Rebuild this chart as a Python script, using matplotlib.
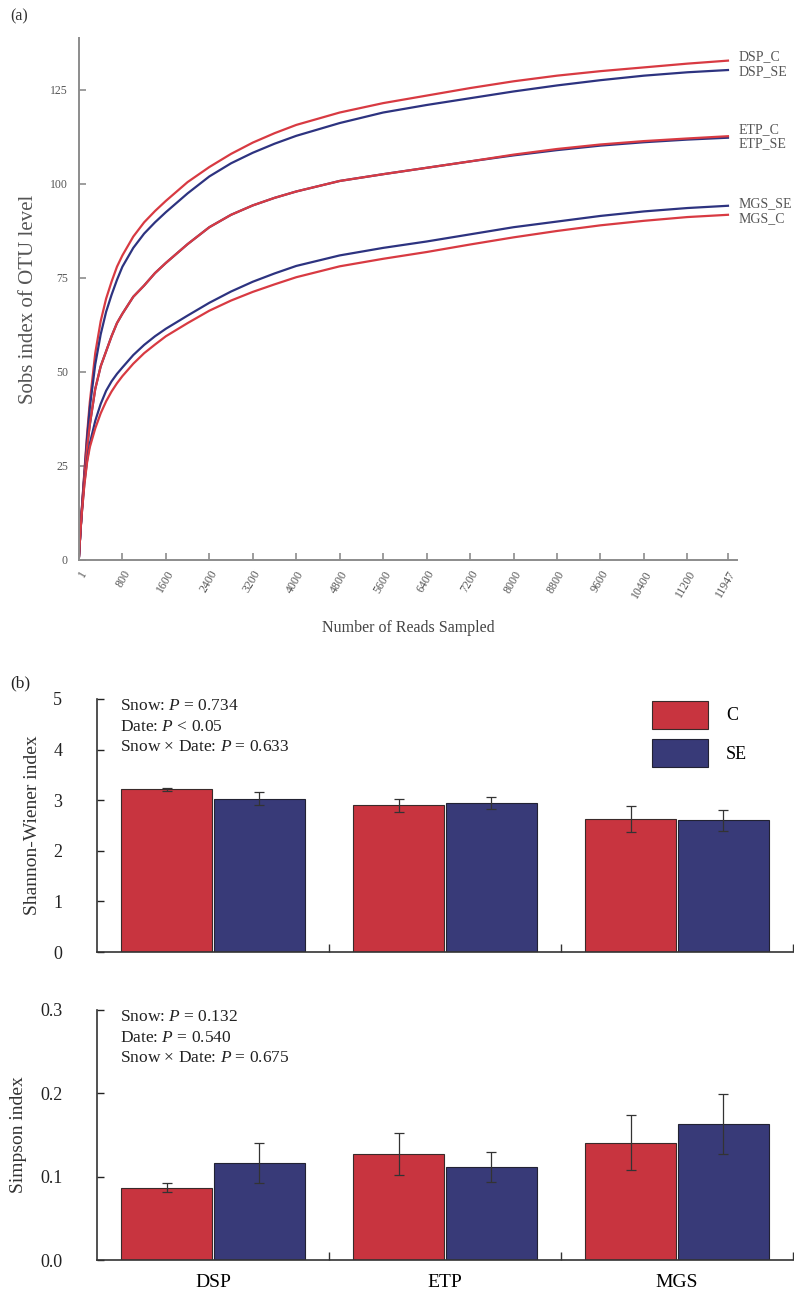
import matplotlib
matplotlib.use("Agg")
import matplotlib.pyplot as plt
import numpy as np

plt.rcParams["font.family"] = ["Liberation Serif", "DejaVu Serif"]
plt.rcParams["mathtext.fontset"] = "custom"
plt.rcParams["mathtext.rm"] = "Liberation Serif"
plt.rcParams["mathtext.it"] = "Liberation Serif:italic"

RED = "#c8343f"
BLUE = "#383a78"
LINE_RED = "#d83a42"
LINE_BLUE = "#2d3380"
GREY = "#8c8c8c"

# (a) rarefaction curves
READS = [1, 25, 50, 100, 150, 200, 300, 400, 500, 600, 700, 800, 1000, 1200,
         1400, 1600, 2000, 2400, 2800, 3200, 3600, 4000, 4800, 5600, 6400,
         7200, 8000, 8800, 9600, 10400, 11200, 11947]
DSP_C = [1, 7, 13, 23.5, 33.5, 42, 55, 63.5, 69.5, 74, 78, 81, 86, 89.8,
         92.8, 95.5, 100.5, 104.5, 108, 111, 113.5, 115.7, 119, 121.5, 123.5,
         125.5, 127.3, 128.8, 130, 131, 132, 132.8]
DSP_SE = [1, 7, 13, 23, 32.5, 40.5, 52, 60, 66, 70.5, 74.5, 78, 83, 86.8,
          89.8, 92.5, 97.5, 102, 105.5, 108.3, 110.7, 112.8, 116.2, 119, 121,
          122.8, 124.6, 126.2, 127.6, 128.8, 129.7, 130.3]
ETP_C = [1, 7, 12.5, 22, 30, 36, 45.5, 51.5, 55.5, 59.5, 63, 65.5, 70, 73,
         76.3, 79, 84, 88.5, 91.8, 94.3, 96.3, 98, 100.8, 102.6, 104.3,
         106, 107.8, 109.3, 110.5, 111.4, 112.1, 112.7]
ETP_SE = [1, 7, 12.5, 22, 30, 36, 45.5, 51.5, 55.5, 59.5, 63, 65.5, 70, 73,
          76.3, 79, 84, 88.5, 91.8, 94.3, 96.3, 98, 100.8, 102.6, 104.3,
          106, 107.6, 109, 110.2, 111.1, 111.8, 112.3]
MGS_SE = [1, 7, 12, 20.5, 26.5, 31, 37, 41.5, 45, 47.5, 49.5, 51.2, 54.5, 57.2,
          59.5, 61.5, 65, 68.4, 71.4, 74, 76.2, 78.2, 81, 83, 84.7,
          86.6, 88.5, 90, 91.5, 92.7, 93.6, 94.2]
MGS_C = [1, 7, 12, 20, 26, 30, 35, 39, 42.2, 44.8, 47, 48.9, 52.2, 55,
         57.3, 59.5, 63, 66.3, 69, 71.3, 73.3, 75.2, 78.1, 80.1, 81.9,
         83.9, 85.8, 87.5, 89, 90.2, 91.2, 91.8]
XTICKS_A = [1, 800, 1600, 2400, 3200, 4000, 4800, 5600, 6400, 7200, 8000, 8800,
            9600, 10400, 11200, 11947]

# (b) diversity indices
SITES = ["DSP", "ETP", "MGS"]
SHANNON_C = [3.22, 2.90, 2.63]
SHANNON_C_ERR = [0.03, 0.13, 0.26]
SHANNON_SE = [3.03, 2.94, 2.60]
SHANNON_SE_ERR = [0.13, 0.12, 0.20]
SIMPSON_C = [0.087, 0.127, 0.141]
SIMPSON_C_ERR = [0.005, 0.025, 0.033]
SIMPSON_SE = [0.117, 0.112, 0.163]
SIMPSON_SE_ERR = [0.024, 0.018, 0.036]

fig = plt.figure(figsize=(7.94, 12.99), dpi=100)

# ---- panel (a)
ax = fig.add_axes([0.0995, 0.5689, 0.8287, 0.4018])
curves = [("DSP_C", DSP_C, LINE_RED), ("DSP_SE", DSP_SE, LINE_BLUE),
          ("ETP_SE", ETP_SE, LINE_BLUE), ("ETP_C", ETP_C, LINE_RED),
          ("MGS_SE", MGS_SE, LINE_BLUE), ("MGS_C", MGS_C, LINE_RED)]
for name, vals, col in curves:
    ax.plot(READS, vals, color=col, lw=1.6, solid_joinstyle="round")

label_y = {"DSP_C": 133.8, "DSP_SE": 129.8, "ETP_C": 114.5, "ETP_SE": 110.6,
           "MGS_SE": 94.7, "MGS_C": 90.7}
for name, _, _ in curves:
    ax.text(12150, label_y[name], name, fontsize=10, color="#555555",
            ha="left", va="center", clip_on=False)

ax.set_xlim(1, 12113)
ax.set_ylim(0, 138.8)
ax.set_yticks([0, 25, 50, 75, 100, 125])
ax.set_xticks(XTICKS_A)
ax.set_xticklabels([str(v) for v in XTICKS_A], rotation=60, ha="right",
                   va="top", rotation_mode="anchor")
for s in ["top", "right"]:
    ax.spines[s].set_visible(False)
for s in ["left", "bottom"]:
    ax.spines[s].set_color(GREY)
    ax.spines[s].set_linewidth(1.4)
ax.tick_params(axis="both", direction="in", length=5, width=1.2, color=GREY,
               labelcolor="#555555", labelsize=8.5)
ax.tick_params(axis="y", pad=8)
ax.tick_params(axis="x", pad=6)
ax.set_ylabel("Sobs index of OTU level", fontsize=15, color="#555555", labelpad=9)
ax.set_xlabel("Number of Reads Sampled", fontsize=11.5, color="#444444", labelpad=14)
fig.text(0.013, 0.987, "(a)", fontsize=11.5, color="#333333", va="center")


def bar_panel(ax, c_vals, c_err, se_vals, se_err, ylim, yticks, fmt, ylabel, notes):
    x = np.arange(len(SITES))
    ekw = dict(ecolor="#333333", elinewidth=0.9, capsize=3.5, capthick=0.9)
    ax.bar(x - 0.2, c_vals, width=0.39, color=RED, edgecolor="#3a2a2a",
           linewidth=0.8, yerr=c_err, error_kw=ekw, label="C")
    ax.bar(x + 0.2, se_vals, width=0.39, color=BLUE, edgecolor="#222233",
           linewidth=0.8, yerr=se_err, error_kw=ekw, label="SE")
    ax.set_xlim(-0.5, 2.5)
    ax.set_ylim(*ylim)
    ax.set_yticks(yticks)
    ax.set_yticklabels([fmt.format(v) for v in yticks])
    ax.set_xticks(x)
    ax.set_xticks([0.5, 1.5, 2.5], minor=True)
    for s in ["top", "right"]:
        ax.spines[s].set_visible(False)
    for s in ["left", "bottom"]:
        ax.spines[s].set_color("#333333")
        ax.spines[s].set_linewidth(1.2)
    ax.tick_params(axis="y", direction="in", length=5, width=1.0, pad=25,
                   labelsize=13, colors="#222222")
    ax.tick_params(axis="x", which="major", length=0, pad=10, labelsize=14)
    ax.tick_params(axis="x", which="minor", direction="in", length=6, width=1.0,
                   color="#333333")
    ax.set_ylabel(ylabel, fontsize=14, labelpad=9, color="#333333")
    ax.text(0.033, 1.005, notes, transform=ax.transAxes, fontsize=12.5,
            va="top", ha="left", linespacing=1.4, color="#222222")


ax1 = fig.add_axes([0.1222, 0.2671, 0.8766, 0.1948])
bar_panel(ax1, SHANNON_C, SHANNON_C_ERR, SHANNON_SE, SHANNON_SE_ERR,
          (0, 5), [0, 1, 2, 3, 4, 5], "{:.0f}", "Shannon-Wiener index",
          "Snow: $\\it{P}$ = 0.734\nDate: $\\it{P}$ < 0.05\n"
          "Snow \u00d7 Date: $\\it{P}$ = 0.633")
ax1.set_xticklabels([])
leg = ax1.legend(loc="upper left", bbox_to_anchor=(0.797, 0.993), frameon=False,
                 fontsize=13, handlelength=3.1, handleheight=2.0,
                 labelspacing=0.6, handletextpad=1.0, borderpad=0,
                 borderaxespad=0)
fig.text(0.013, 0.474, "(b)", fontsize=12.5, color="#222222", va="center")

ax2 = fig.add_axes([0.1222, 0.0300, 0.8766, 0.1925])
bar_panel(ax2, SIMPSON_C, SIMPSON_C_ERR, SIMPSON_SE, SIMPSON_SE_ERR,
          (0, 0.3), [0.0, 0.1, 0.2, 0.3], "{:.1f}", "Simpson index",
          "Snow: $\\it{P}$ = 0.132\nDate: $\\it{P}$ = 0.540\n"
          "Snow \u00d7 Date: $\\it{P}$ = 0.675")
ax2.set_xticklabels(SITES)

fig.savefig("out.png", dpi=100)
